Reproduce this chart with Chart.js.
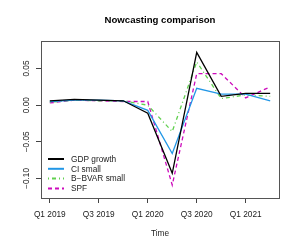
<!DOCTYPE html>
<html>
<head>
<meta charset="utf-8">
<script src="https://cdn.jsdelivr.net/npm/chart.js@4"></script>
<style>
  body { margin: 0; background: #fff; }
  canvas { display: block; }
</style>
</head>
<body>
<canvas id="canvas" width="300" height="250"></canvas>
<script>
// quarters Q1 2019 .. Q2 2021
let quarters = ['Q1 2019', 'Q2 2019', 'Q3 2019', 'Q4 2019', 'Q1 2020', 'Q2 2020', 'Q3 2020', 'Q4 2020', 'Q1 2021', 'Q2 2021'];
let gdpGrowth = [0.006, 0.008, 0.007, 0.006, -0.011, -0.093, 0.072, 0.012, 0.016, 0.016];
let ciSmall = [0.005, 0.007, 0.007, 0.006, -0.007, -0.066, 0.023, 0.015, 0.015, 0.006];
let bbvarSmall = [0.004, 0.007, 0.006, 0.006, 0.000, -0.036, 0.059, 0.009, 0.014, 0.012];
let spf = [0.003, 0.007, 0.006, 0.005, 0.005, -0.109, 0.043, 0.043, 0.010, 0.025];
let xTickIdx = [0, 2, 4, 6, 8];
let yTicks = [-0.10, -0.05, 0.00, 0.05];
let yLabels = ['\u22120.10', '\u22120.05', '0.00', '0.05'];

let font = '"Liberation Sans", Arial, Helvetica, sans-serif';
let ctx = document.getElementById('canvas').getContext('2d');

let toPoints = (arr) => arr.map((v, i) => ({ x: i, y: v }));

let extras = {
    id: 'extras',
    afterDraw(chart) {
        let c = chart.ctx;
        let a = chart.chartArea;
        let ys = chart.scales.y;
        c.save();
        // box
        c.strokeStyle = '#555';
        c.lineWidth = 1;
        c.strokeRect(Math.round(a.left) + 0.5, Math.round(a.top) + 0.5, Math.round(a.right - a.left), Math.round(a.bottom - a.top));
        // title
        c.fillStyle = '#000';
        c.textAlign = 'center';
        c.textBaseline = 'middle';
        c.font = 'bold 9.6px ' + font;
        c.fillText('Nowcasting comparison', (a.left + a.right) / 2, 20.5);
        // x title
        c.fillStyle = '#222';
        c.font = '8.3px ' + font;
        c.fillText('Time', (a.left + a.right) / 2, 234);
        // rotated y labels
        yTicks.forEach((t, i) => {
            c.save();
            c.translate(27, ys.getPixelForValue(t));
            c.rotate(-Math.PI / 2);
            c.fillText(yLabels[i], 0, 0);
            c.restore();
        });
        // legend
        c.textAlign = 'left';
        chart.data.datasets.forEach((ds, i) => {
            let y = 159 + i * 9.8;
            c.beginPath();
            c.strokeStyle = ds.borderColor;
            c.lineWidth = 2;
            c.setLineDash(ds.borderDash || []);
            c.moveTo(48, y);
            c.lineTo(64, y);
            c.stroke();
            c.setLineDash([]);
            c.fillStyle = '#222';
            c.fillText(ds.label, 71, y + 0.5);
        });
        c.restore();
    }
};

let axisGrid = { drawOnChartArea: false, drawTicks: true, tickLength: 5, color: '#444', lineWidth: 1 };

let myLineChart = new Chart(ctx, {
    type: 'line',
    data: {
        datasets: [{
            label: 'GDP growth',
            data: toPoints(gdpGrowth),
            borderColor: '#000000',
            borderWidth: 1.3,
        }, {
            label: 'CI small',
            data: toPoints(ciSmall),
            borderColor: '#2297E6',
            borderWidth: 1.3,
        }, {
            label: 'B\u2212BVAR small',
            data: toPoints(bbvarSmall),
            borderColor: '#61D04F',
            borderWidth: 1.3,
            borderDash: [1, 3, 4, 3],
        }, {
            label: 'SPF',
            data: toPoints(spf),
            borderColor: '#CD0BBC',
            borderWidth: 1.3,
            borderDash: [4, 3],
        }],
    },
    options: {
        responsive: false,
        animation: false,
        layout: { padding: { top: 41, right: 21, left: 0, bottom: 0 } },
        elements: { point: { radius: 0 }, line: { tension: 0, fill: false } },
        plugins: { legend: { display: false }, title: { display: false }, tooltip: { enabled: false } },
        scales: {
            x: {
                type: 'linear',
                min: -0.36,
                max: 9.36,
                afterBuildTicks: s => { s.ticks = xTickIdx.map(v => ({ value: v })); },
                afterFit: s => { s.height = 52; },
                ticks: {
                    callback: v => quarters[v],
                    font: { family: font, size: 8.3 },
                    color: '#222',
                    padding: 7,
                    maxRotation: 0,
                    autoSkip: false,
                },
                grid: axisGrid,
                border: { display: false },
            },
            y: {
                min: -0.1267,
                max: 0.0876,
                afterBuildTicks: s => { s.ticks = yTicks.map(v => ({ value: v })); },
                afterFit: s => { s.width = 41; },
                ticks: { color: 'rgba(0,0,0,0)', font: { family: font, size: 8 } },
                grid: axisGrid,
                border: { display: false },
            },
        },
    },
    plugins: [extras],
});
</script>
</body>
</html>
